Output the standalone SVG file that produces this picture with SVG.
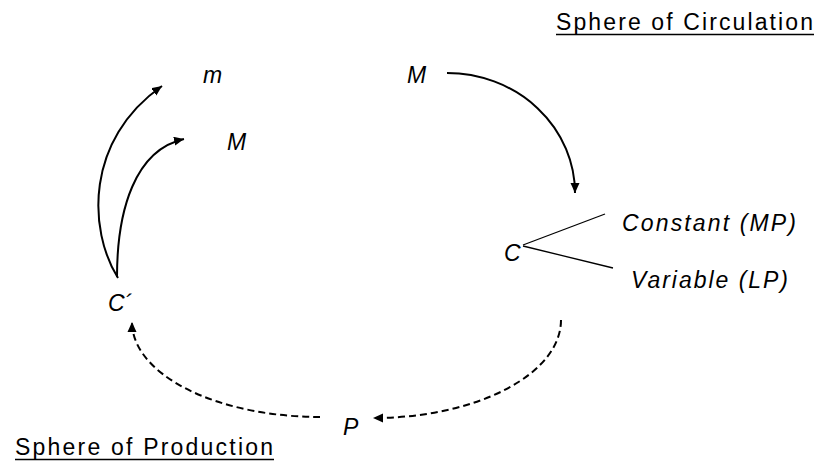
<svg xmlns="http://www.w3.org/2000/svg" width="822" height="468" viewBox="0 0 822 468">
<defs>
<marker id="ah" markerUnits="userSpaceOnUse" markerWidth="12" markerHeight="10" refX="10" refY="4.5" orient="auto">
<path d="M0,0 L10,4.5 L0,9 Z" fill="#000"/>
</marker>
<style>
.lbl{font-family:"Liberation Sans",Arial,sans-serif;font-style:italic;font-size:23px;fill:#000}
.hd{font-family:"Liberation Sans",Arial,sans-serif;font-size:23px;fill:#000}
.ul{stroke:#000;stroke-width:1.6}
.solid{fill:none;stroke:#000;stroke-width:2}
.dash{fill:none;stroke:#000;stroke-width:2;stroke-dasharray:7 4}
.thin{fill:none;stroke:#000;stroke-width:1.3}
</style>
</defs>
<rect width="822" height="468" fill="#fff"/>
<g id="heading-circulation">
<text class="hd" x="556" y="30" textLength="257" lengthAdjust="spacing">Sphere of Circulation</text>
<line class="ul" x1="556" y1="34.5" x2="814" y2="34.5"/>
</g>
<g id="heading-production">
<text class="hd" x="15" y="455" textLength="258" lengthAdjust="spacing">Sphere of Production</text>
<line class="ul" x1="15" y1="459.5" x2="274" y2="459.5"/>
</g>
<g id="node-m"><text class="lbl" x="203" y="83">m</text></g>
<g id="node-M-top"><text class="lbl" x="407" y="83">M</text></g>
<g id="node-M-left"><text class="lbl" x="227" y="150">M</text></g>
<g id="node-C"><text class="lbl" x="504" y="261">C</text></g>
<g id="node-Cprime"><text class="lbl" x="108" y="311">C´</text></g>
<g id="node-P"><text class="lbl" x="343" y="435">P</text></g>
<g id="node-constant"><text class="lbl" x="622" y="231" textLength="174" lengthAdjust="spacing">Constant (MP)</text></g>
<g id="node-variable"><text class="lbl" x="631" y="288" textLength="157" lengthAdjust="spacing">Variable (LP)</text></g>
<g id="connectors">
<path class="solid" d="M447,73 A128,120 0 0 1 575,193" marker-end="url(#ah)"/>
<path class="thin" d="M523,245 L605,214"/>
<path class="thin" d="M523,246 L613,268"/>
<path class="dash" d="M561,320 A188,98 0 0 1 373,418" marker-end="url(#ah)"/>
<path class="dash" d="M320,417 A188,95 0 0 1 132,322" marker-end="url(#ah)"/>
<path class="solid" d="M118,278 C88,230 85,140 162,86" marker-end="url(#ah)"/>
<path class="solid" d="M117,277 C117,210 135,150 184,139" marker-end="url(#ah)"/>
</g>
</svg>
